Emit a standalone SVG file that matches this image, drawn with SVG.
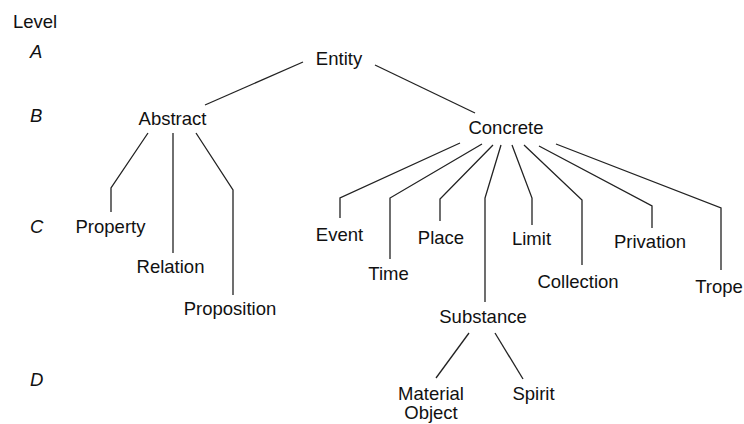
<svg xmlns="http://www.w3.org/2000/svg" width="744" height="424" viewBox="0 0 744 424">
  <style>
    text { font-family: "Liberation Sans", Arial, sans-serif; font-size: 18.5px; fill: #111; }
    .node text { text-anchor: middle; }
    .lvl { font-style: italic; }
    .edge { fill: none; stroke: #222; stroke-width: 1.3; stroke-linejoin: miter; }
  </style>
  <rect width="744" height="424" fill="#fff"/>

  <!-- level column -->
  <g id="levels">
    <text x="13" y="28">Level</text>
    <text class="lvl" x="30" y="58">A</text>
    <text class="lvl" x="30" y="122">B</text>
    <text class="lvl" x="30" y="233">C</text>
    <text class="lvl" x="30" y="386">D</text>
  </g>

  <!-- connectors -->
  <g id="connectors">
    <polyline class="edge" points="303,62 205,105"/>
    <polyline class="edge" points="375,65 475,113"/>
    <polyline class="edge" points="148,133 111,188 111,212"/>
    <polyline class="edge" points="173,133 173,253"/>
    <polyline class="edge" points="196,133 233,190 233,295"/>
    <polyline class="edge" points="460,143 340,198 340,218"/>
    <polyline class="edge" points="482,144 390,198 390,259"/>
    <polyline class="edge" points="493,145 440,199 440,221"/>
    <polyline class="edge" points="501,145 485,198 485,302"/>
    <polyline class="edge" points="512,145 532,198 532,225"/>
    <polyline class="edge" points="524,145 582,200 582,265"/>
    <polyline class="edge" points="539,146 652,206 652,228"/>
    <polyline class="edge" points="556,144 721,208 721,270"/>
    <polyline class="edge" points="469,333 436,378"/>
    <polyline class="edge" points="495,333 523,379"/>
  </g>

  <!-- nodes -->
  <g id="entity" class="node"><text x="339" y="65">Entity</text></g>
  <g id="abstract" class="node"><text x="172.5" y="125">Abstract</text></g>
  <g id="concrete" class="node"><text x="506" y="134">Concrete</text></g>
  <g id="property" class="node"><text x="110.5" y="233">Property</text></g>
  <g id="relation" class="node"><text x="170.5" y="273">Relation</text></g>
  <g id="proposition" class="node"><text x="230" y="315">Proposition</text></g>
  <g id="event" class="node"><text x="339.5" y="241">Event</text></g>
  <g id="time" class="node"><text x="388.5" y="280">Time</text></g>
  <g id="place" class="node"><text x="441" y="244">Place</text></g>
  <g id="substance" class="node"><text x="483" y="323">Substance</text></g>
  <g id="limit" class="node"><text x="531.5" y="245">Limit</text></g>
  <g id="collection" class="node"><text x="578" y="288">Collection</text></g>
  <g id="privation" class="node"><text x="650" y="248">Privation</text></g>
  <g id="trope" class="node"><text x="719" y="293">Trope</text></g>
  <g id="material-object" class="node">
    <text x="431" y="400">Material</text>
    <text x="431" y="419">Object</text>
  </g>
  <g id="spirit" class="node"><text x="533.5" y="400">Spirit</text></g>
</svg>
